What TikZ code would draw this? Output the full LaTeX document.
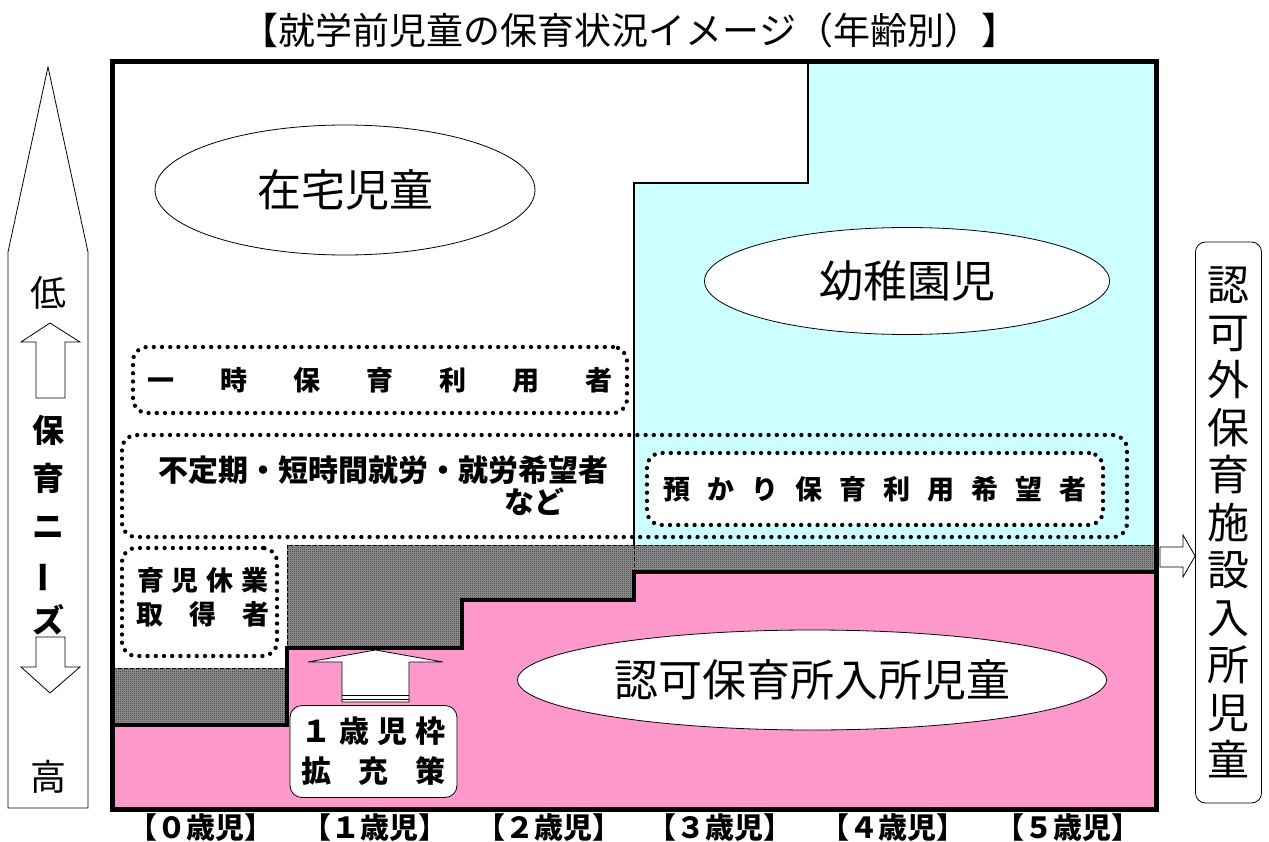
\documentclass[tikz,border=0pt]{standalone}
\usepackage{fontspec}
\setmainfont{Noto Sans CJK JP}
\usetikzlibrary{shapes.geometric,patterns.meta}
\definecolor{cyanbg}{HTML}{CCFFFF}
\definecolor{pinkbg}{HTML}{FF99CC}
\tikzdeclarepattern{name=chk, type=uncolored,
  bounding box={(0pt,0pt) and (2pt,2pt)}, tile size={(2pt,2pt)},
  code={\fill (0pt,0pt) rectangle (1pt,1pt); \fill (1pt,1pt) rectangle (2pt,2pt);}}
\newcommand\fsz[2]{\fontsize{#1}{#2}\selectfont}
\begin{document}
\begin{tikzpicture}[x=1pt,y=-1pt,
  oval/.style={ellipse, draw, line width=0.8pt, fill=white, inner sep=0pt, font=\fsz{44}{50}},
  dotbox/.style={draw, line width=4.3pt, dash pattern=on 0pt off 8.2pt, line cap=round, rounded corners=14pt, inner sep=0pt},
  thinbox/.style={draw, line width=0.8pt, fill=white},
  txt/.style={inner sep=0pt},
  boldtxt/.style={inner sep=0pt, font=\bfseries\fsz{27}{34}, align=center},
  agelbl/.style={inner sep=0pt, font=\bfseries\fsz{29}{29}},
  sidetxt/.style={inner sep=0pt, font=\bfseries\fsz{32}{32}},
  hatch/.style={pattern={chk}, pattern color=black}
]
\useasboundingbox (0,0) rectangle (1269,842);
\fill[white] (0,0) rectangle (1269,842);

% regions
\fill[cyanbg] (808,62) -- (1156,62) -- (1156,545) -- (634,545) -- (634,183) -- (808,183) -- cycle;
\fill[pinkbg] (112,725) -- (287,725) -- (287,648) -- (462,648) -- (462,600) -- (634,600) -- (634,572) -- (1156,572) -- (1156,809) -- (112,809) -- cycle;
\path[fill=black!38] (112,668) -- (287,668) -- (287,545) -- (1156,545) -- (1156,572) -- (634,572) -- (634,600) -- (462,600) -- (462,648) -- (287,648) -- (287,725) -- (112,725) -- cycle;
\path[hatch] (112,668) -- (287,668) -- (287,545) -- (1156,545) -- (1156,572) -- (634,572) -- (634,600) -- (462,600) -- (462,648) -- (287,648) -- (287,725) -- (112,725) -- cycle;

% boundaries
\draw[line width=2pt] (808,62) -- (808,183) -- (634,183) -- (634,545);
\draw[line width=1pt, dash pattern=on 4pt off 2pt] (112,668) -- (287,668) -- (287,545) -- (1156,545);
\draw[line width=1pt, dash pattern=on 4pt off 2pt] (634,545) -- (634,572);
\draw[line width=4.5pt] (112,725) -- (287,725) -- (287,648) -- (462,648) -- (462,600) -- (634,600) -- (634,572) -- (1156,572);
\draw[line width=5pt] (112,62) rectangle (1156,809);

% title
\node[txt, font=\fsz{37}{37}] (title) at (630,30) {【就学前児童の保育状況イメージ（年齢別）】};

% ellipses
\node[oval, minimum width=380pt, minimum height=130pt] (zaitaku) at (345,190) {在宅児童};
\node[oval, minimum width=405pt, minimum height=107pt] (youchien) at (907,281) {幼稚園児};
\node[oval, minimum width=589pt, minimum height=100pt] (ninka) at (812,680) {認可保育所入所児童};

% dotted groups
\node[dotbox, minimum width=494pt, minimum height=66pt] (ichiji) at (380,380) {};
\node[boldtxt] (ichijiT) at (380,380) {一\hspace{46pt}時\hspace{46pt}保\hspace{46pt}育\hspace{46pt}利\hspace{46pt}用\hspace{46pt}者};

\node[dotbox, minimum width=1005pt, minimum height=102pt] (futeiki) at (624.5,486) {};
\node[txt, font=\bfseries\fsz{30}{32}, align=right] (futeikiT) at (383,486) {不定期・短時間就労・就労希望者\\など\hspace*{44pt}};

\node[dotbox, fill=white, minimum width=456pt, minimum height=72pt] (azukari) at (875,489) {};
\node[boldtxt] (azukariT) at (875,489) {預\hspace{17pt}か\hspace{17pt}り\hspace{17pt}保\hspace{17pt}育\hspace{17pt}利\hspace{17pt}用\hspace{17pt}希\hspace{17pt}望\hspace{17pt}者};

\node[dotbox, minimum width=155pt, minimum height=108pt] (ikukyu) at (199.5,602) {};
\node[boldtxt] (ikukyuT) at (203,597) {育\hspace{8pt}児\hspace{8pt}休\hspace{8pt}業\\取\hspace{26pt}得\hspace{26pt}者};

% 1-year expansion
\node[thinbox, rounded corners=12pt, minimum width=167pt, minimum height=92pt, align=center, inner sep=0pt, font=\bfseries\fsz{30}{40}] (waku) at (373.5,751.5) {１\hspace{8pt}歳\hspace{8pt}児\hspace{8pt}枠\\拡\hspace{27pt}充\hspace{27pt}策};
\coordinate (wakutip) at (375.5,650);
\draw[thinbox] (342,702) -- (342,662) -- (308,662) -- (wakutip) -- (443,662) -- (409,662) -- (409,702) -- cycle;
\draw[line width=0.8pt] (342,695) -- (409,695) (342,699) -- (409,699);

% left need scale
\draw[thinbox] (8,808) -- (8,252) -- (48,67) -- (88,252) -- (88,808) -- cycle;
\draw[thinbox] (36,398) -- (36,342) -- (21,342) -- (50,323) -- (80,342) -- (65,342) -- (65,398) -- cycle;
\draw[thinbox] (36,637) -- (65,637) -- (65,667) -- (80,667) -- (50,693) -- (21,667) -- (36,667) -- cycle;
\node[txt, font=\fsz{36}{36}] (low) at (48,293) {低};
\node[sidetxt] (n1) at (48,430) {保};
\node[sidetxt] (n2) at (48,478) {育};
\node[sidetxt] (n3) at (48,527) {ニ};
\node[sidetxt, rotate=90] (n4) at (48,577) {ー};
\node[sidetxt] (n5) at (48,620) {ズ};
\node[txt, font=\fsz{36}{36}] (high) at (48,777) {高};

% right panel
\node[draw, line width=0.8pt, rounded corners=10pt, minimum width=66pt, minimum height=561pt, inner sep=0pt, align=center, font=\fsz{42}{47.5}] (gai) at (1228.5,522.5) {認\\可\\外\\保\\育\\施\\設\\入\\所\\児\\童};
\draw[thinbox] (1160,547) -- (1183,547) -- (1183,535) -- (gai.west |- 0,556) -- (1183,577) -- (1183,567) -- (1160,567) -- cycle;

% age labels
\node[agelbl] (a0) at (201,828) {【０歳児】};
\node[agelbl] (a1) at (375,828) {【１歳児】};
\node[agelbl] (a2) at (549,828) {【２歳児】};
\node[agelbl] (a3) at (720,828) {【３歳児】};
\node[agelbl] (a4) at (893,828) {【４歳児】};
\node[agelbl] (a5) at (1068,828) {【５歳児】};
\end{tikzpicture}
\end{document}
